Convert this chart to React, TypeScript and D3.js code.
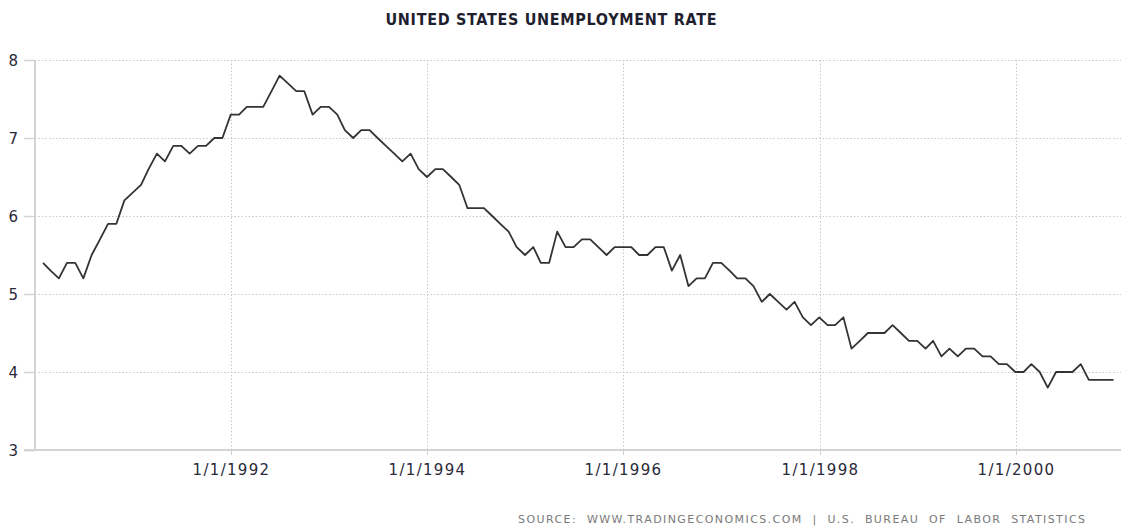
import React from "react";
import * as d3 from "d3";

const startYear = 1990;
const rates: number[] = [
  // 1990
  5.4, 5.3, 5.2, 5.4, 5.4, 5.2, 5.5, 5.7, 5.9, 5.9, 6.2, 6.3,
  // 1991
  6.4, 6.6, 6.8, 6.7, 6.9, 6.9, 6.8, 6.9, 6.9, 7.0, 7.0, 7.3,
  // 1992
  7.3, 7.4, 7.4, 7.4, 7.6, 7.8, 7.7, 7.6, 7.6, 7.3, 7.4, 7.4,
  // 1993
  7.3, 7.1, 7.0, 7.1, 7.1, 7.0, 6.9, 6.8, 6.7, 6.8, 6.6, 6.5,
  // 1994
  6.6, 6.6, 6.5, 6.4, 6.1, 6.1, 6.1, 6.0, 5.9, 5.8, 5.6, 5.5,
  // 1995
  5.6, 5.4, 5.4, 5.8, 5.6, 5.6, 5.7, 5.7, 5.6, 5.5, 5.6, 5.6,
  // 1996
  5.6, 5.5, 5.5, 5.6, 5.6, 5.3, 5.5, 5.1, 5.2, 5.2, 5.4, 5.4,
  // 1997
  5.3, 5.2, 5.2, 5.1, 4.9, 5.0, 4.9, 4.8, 4.9, 4.7, 4.6, 4.7,
  // 1998
  4.6, 4.6, 4.7, 4.3, 4.4, 4.5, 4.5, 4.5, 4.6, 4.5, 4.4, 4.4,
  // 1999
  4.3, 4.4, 4.2, 4.3, 4.2, 4.3, 4.3, 4.2, 4.2, 4.1, 4.1, 4.0,
  // 2000
  4.0, 4.1, 4.0, 3.8, 4.0, 4.0, 4.0, 4.1, 3.9, 3.9, 3.9, 3.9,
];
const xTickYears: number[] = [1992, 1994, 1996, 1998, 2000];
const yTicks: number[] = [3, 4, 5, 6, 7, 8];
const title = "UNITED STATES UNEMPLOYMENT RATE";
const source = "SOURCE:  WWW.TRADINGECONOMICS.COM  |  U.S.  BUREAU  OF  LABOR  STATISTICS";

// month-end dates
const points = rates.map((v, i) => ({
  date: new Date(Date.UTC(startYear, i + 1, 0)),
  value: v,
}));

export default function App() {
  const W = 1121, H = 531;
  const left = 35, right = 1113.8, top = 60, bottom = 450;
  const x = d3
    .scaleUtc()
    .domain([new Date(Date.UTC(1990, 0, 1)), new Date(Date.UTC(2001, 0, 1))])
    .range([left, right]);
  const y = d3.scaleLinear().domain([3, 8]).range([bottom, top]);
  const line = d3
    .line<{ date: Date; value: number }>()
    .x((d) => x(d.date))
    .y((d) => y(d.value));
  const labelColor = "#2a2a3a";
  const font = "'DejaVu Sans', Verdana, sans-serif";

  return (
    <svg
      width={W}
      height={H}
      style={{ position: "absolute", left: 0, top: 0, display: "block", background: "#fff" }}
    >
      <text
        x={551}
        y={25}
        textAnchor="middle"
        fontFamily="'DejaVu Sans Condensed', 'DejaVu Sans', sans-serif"
        fontWeight="bold"
        fontSize={16}
        fill="#1f1f2f"
        textLength={331}
        lengthAdjust="spacing"
      >
        {title}
      </text>

      {/* horizontal grid */}
      {yTicks.filter((t) => t !== 3).map((t) => (
        <line
          key={"hg" + t}
          x1={left}
          x2={W}
          y1={Math.round(y(t)) + 0.5}
          y2={Math.round(y(t)) + 0.5}
          stroke="#c8c8c8"
          strokeWidth={1}
          strokeDasharray="1.5,2"
        />
      ))}
      {/* vertical grid */}
      {xTickYears.map((yr) => {
        const xv = Math.round(x(new Date(Date.UTC(yr, 0, 1)))) + 0.5;
        return (
          <g key={"vg" + yr}>
            <line x1={xv} x2={xv} y1={top} y2={bottom} stroke="#c8c8c8" strokeWidth={1} strokeDasharray="1.5,2" />
            <line x1={xv} x2={xv} y1={bottom} y2={bottom + 5} stroke="#cfcfcf" strokeWidth={1} />
            <text
              x={xv}
              y={475}
              textAnchor="middle"
              fontFamily={font}
              fontSize={15}
              letterSpacing={1.3}
              fill={labelColor}
            >
              {`1/1/${yr}`}
            </text>
          </g>
        );
      })}

      {/* axes */}
      <line x1={left} x2={left} y1={top} y2={bottom} stroke="#d4d4d4" strokeWidth={2} />
      <line x1={24} x2={W} y1={bottom} y2={bottom} stroke="#d4d4d4" strokeWidth={2} />
      {yTicks.map((t) => (
        <g key={"yt" + t}>
          <line x1={24} x2={left} y1={Math.round(y(t)) + 0.5} y2={Math.round(y(t)) + 0.5} stroke="#d4d4d4" strokeWidth={t === 3 ? 2 : 1.5} />
          <text
            x={18}
            y={y(t) + 6}
            textAnchor="end"
            fontFamily={font}
            fontSize={15}
            fill={labelColor}
          >
            {t}
          </text>
        </g>
      ))}

      <path d={line(points) || ""} fill="none" stroke="#333" strokeWidth={1.8} strokeLinejoin="round" />

      <text
        x={1085}
        y={523}
        textAnchor="end"
        fontFamily={font}
        fontSize={11}
        fill="#7a7a7a"
        textLength={567}
        lengthAdjust="spacing"
        style={{ whiteSpace: "pre" }}
      >
        {source}
      </text>
    </svg>
  );
}
